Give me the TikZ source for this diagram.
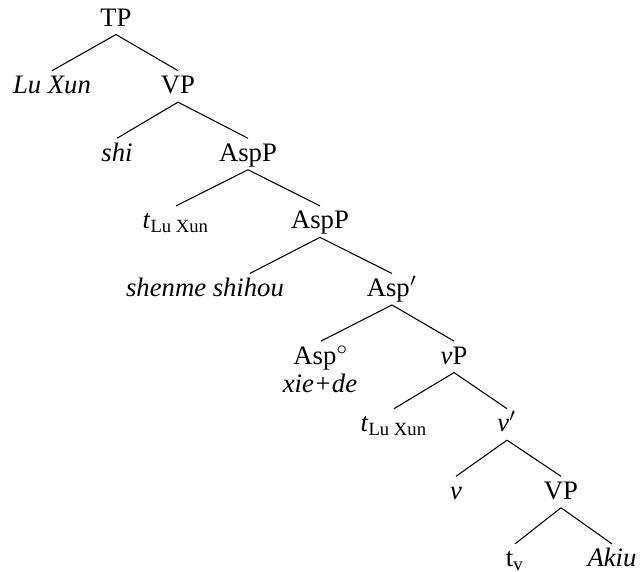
\documentclass[tikz,border=0pt]{standalone}
\usepackage{fontspec}
\setmainfont{Liberation Serif}

\begin{document}
\begin{tikzpicture}[x=0.375pt,y=-0.375pt,
    cat/.style={anchor=base,inner sep=0pt,text height=8.4pt,text depth=3pt}]
                \useasboundingbox (0,0) rectangle (640,571);
                % labels, row by row
                \node[cat] (tp) at (116,26) {TP};
                \node[cat] (luxun) at (52,93.6) {\textit{Lu Xun}};
                \node[cat] (vpa) at (178,93.6) {VP};
                \node[cat] (shi) at (117,161.2) {\textit{shi}};
                \node[cat] (asppa) at (248,161.2) {AspP};
                \node[cat] (tluxa) at (176,228.8) {\textit{t}\textsubscript{Lu Xun}};
                \node[cat] (asppb) at (320,228.8) {AspP};
                \node[cat] (shenme) at (205,296.4) {\textit{shenme shihou}};
                \node[cat] (aspbar) at (392,296.4) {Asp$'$};
                \node[cat] (asphead) at (321,364) {Asp$^\circ$};
                \node[anchor=base,inner sep=0pt] (xiede) at (320,392) {\textit{xie+de}};
                \node[cat] (vsmp) at (454,364) {\textit{v}P};
                \node[cat] (tluxb) at (394,431.6) {\textit{t}\textsubscript{Lu Xun}};
                \node[cat] (vbar) at (507,431.6) {\textit{v}$'$};
                \node[cat] (vsm) at (456,499.2) {\textit{v}};
                \node[cat] (vpb) at (561,499.2) {VP};
                \node[cat] (tv) at (515,566.8) {t\textsubscript{v}};
                \node[cat] (akiu) at (612,566.8) {\textit{Akiu}};
                % branches
                \draw (tp.south) -- (luxun.north);
                \draw (tp.south) -- (vpa.north);
                \draw (vpa.south) -- (shi.north);
                \draw (vpa.south) -- (asppa.north);
                \draw (asppa.south) -- (tluxa.north);
                \draw (asppa.south) -- (asppb.north);
                \draw (asppb.south) -- ([xshift=-13pt]shenme.north east);
                \draw (asppb.south) -- (aspbar.north);
                \draw (aspbar.south) -- (asphead.north);
                \draw (aspbar.south) -- (vsmp.north);
                \draw (vsmp.south) -- (tluxb.north);
                \draw (vsmp.south) -- (vbar.north);
                \draw (vbar.south) -- (vsm.north);
                \draw (vbar.south) -- (vpb.north);
                \draw (vpb.south) -- (tv.north);
                \draw (vpb.south) -- (akiu.north);
\end{tikzpicture}
\end{document}
